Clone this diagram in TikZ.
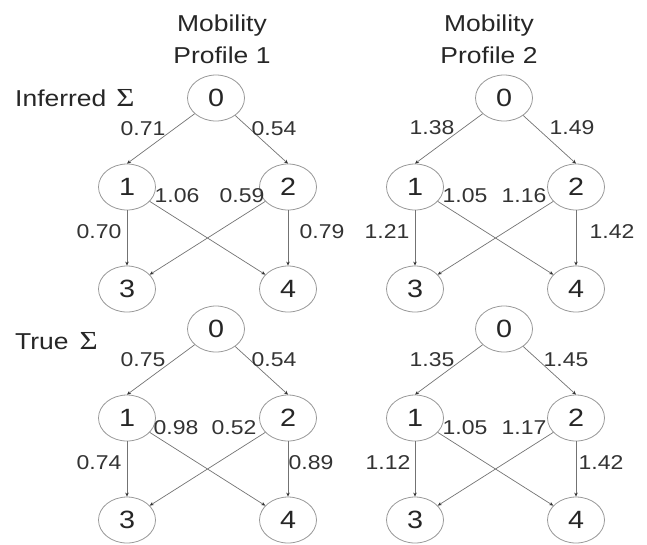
\documentclass[tikz,border=0pt]{standalone}
\usepackage{fontspec}
\setmainfont{Liberation Sans}[FakeStretch=1.15]
\newfontfamily\sigmafont{Liberation Serif}[FakeStretch=1.2]
\usetikzlibrary{shapes.geometric,arrows.meta}

\begin{document}
\begin{tikzpicture}[x=1pt,y=-1pt,
  vertex/.style={ellipse,draw=black!40,line width=0.8pt,minimum width=57pt,minimum height=46pt,inner sep=0pt,text=black!85,font=\fontsize{25}{25}\selectfont},
  link/.style={draw=black!55,line width=0.7pt,-{Stealth[length=4pt,width=3.5pt,black!80]}},
  lbl/.style={inner sep=0pt,text=black!80,font=\fontsize{20}{20}\selectfont},
  head/.style={inner sep=0pt,align=center,text=black!85,font=\fontsize{23}{32}\selectfont}]
\useasboundingbox (0,0) rectangle (647,544);

% column and row headings
\node[head] (p1) at (222,39) {Mobility\\Profile 1};
\node[head] (p2) at (489,39) {Mobility\\Profile 2};
\node[head,anchor=west] (inf) at (15,98) {Inferred\hspace{10pt}{\sigmafont\fontsize{26}{26}\selectfont Σ}};
\node[head,anchor=west] (tru) at (15,341) {True\hspace{11pt}{\sigmafont\fontsize{26}{26}\selectfont Σ}};

% inferred, profile 1
\node[vertex] (a0) at (216,98) {0};
\node[vertex] (a1) at (127,187) {1};
\node[vertex] (a2) at (288,187) {2};
\node[vertex] (a3) at (127,289) {3};
\node[vertex] (a4) at (288,289) {4};
\draw[link] (a0) -- (a1.north);
\draw[link] (a0) -- (a2.north);
\draw[link] (a1) -- (a3);
\draw[link] (a2) -- (a4);
\draw[link] (a1) -- (a4);
\draw[link] (a2) -- (a3);
\node[lbl] (a01) at (143,129) {0.71};
\node[lbl] (a02) at (274,129) {0.54};
\node[lbl] (a14) at (177,196) {1.06};
\node[lbl] (a23) at (242,196) {0.59};
\node[lbl] (a13) at (99,232) {0.70};
\node[lbl] (a24) at (322,232) {0.79};

% inferred, profile 2
\node[vertex] (b0) at (504,98) {0};
\node[vertex] (b1) at (415,187) {1};
\node[vertex] (b2) at (576,187) {2};
\node[vertex] (b3) at (415,289) {3};
\node[vertex] (b4) at (576,289) {4};
\draw[link] (b0) -- (b1.north);
\draw[link] (b0) -- (b2.north);
\draw[link] (b1) -- (b3);
\draw[link] (b2) -- (b4);
\draw[link] (b1) -- (b4);
\draw[link] (b2) -- (b3);
\node[lbl] (b01) at (432,128) {1.38};
\node[lbl] (b02) at (572,128) {1.49};
\node[lbl] (b14) at (465,196) {1.05};
\node[lbl] (b23) at (524,196) {1.16};
\node[lbl] (b13) at (387,232) {1.21};
\node[lbl] (b24) at (612,232) {1.42};

% true, profile 1
\node[vertex] (c0) at (216,329) {0};
\node[vertex] (c1) at (127,418) {1};
\node[vertex] (c2) at (288,418) {2};
\node[vertex] (c3) at (127,520) {3};
\node[vertex] (c4) at (288,520) {4};
\draw[link] (c0) -- (c1.north);
\draw[link] (c0) -- (c2.north);
\draw[link] (c1) -- (c3);
\draw[link] (c2) -- (c4);
\draw[link] (c1) -- (c4);
\draw[link] (c2) -- (c3);
\node[lbl] (c01) at (143,360) {0.75};
\node[lbl] (c02) at (274,360) {0.54};
\node[lbl] (c14) at (176,428) {0.98};
\node[lbl] (c23) at (234,428) {0.52};
\node[lbl] (c13) at (99,463) {0.74};
\node[lbl] (c24) at (311,463) {0.89};

% true, profile 2
\node[vertex] (d0) at (504,329) {0};
\node[vertex] (d1) at (415,418) {1};
\node[vertex] (d2) at (576,418) {2};
\node[vertex] (d3) at (415,520) {3};
\node[vertex] (d4) at (576,520) {4};
\draw[link] (d0) -- (d1.north);
\draw[link] (d0) -- (d2.north);
\draw[link] (d1) -- (d3);
\draw[link] (d2) -- (d4);
\draw[link] (d1) -- (d4);
\draw[link] (d2) -- (d3);
\node[lbl] (d01) at (432,360) {1.35};
\node[lbl] (d02) at (566,360) {1.45};
\node[lbl] (d14) at (465,428) {1.05};
\node[lbl] (d23) at (524,428) {1.17};
\node[lbl] (d13) at (388,463) {1.12};
\node[lbl] (d24) at (601,463) {1.42};
\end{tikzpicture}
\end{document}
